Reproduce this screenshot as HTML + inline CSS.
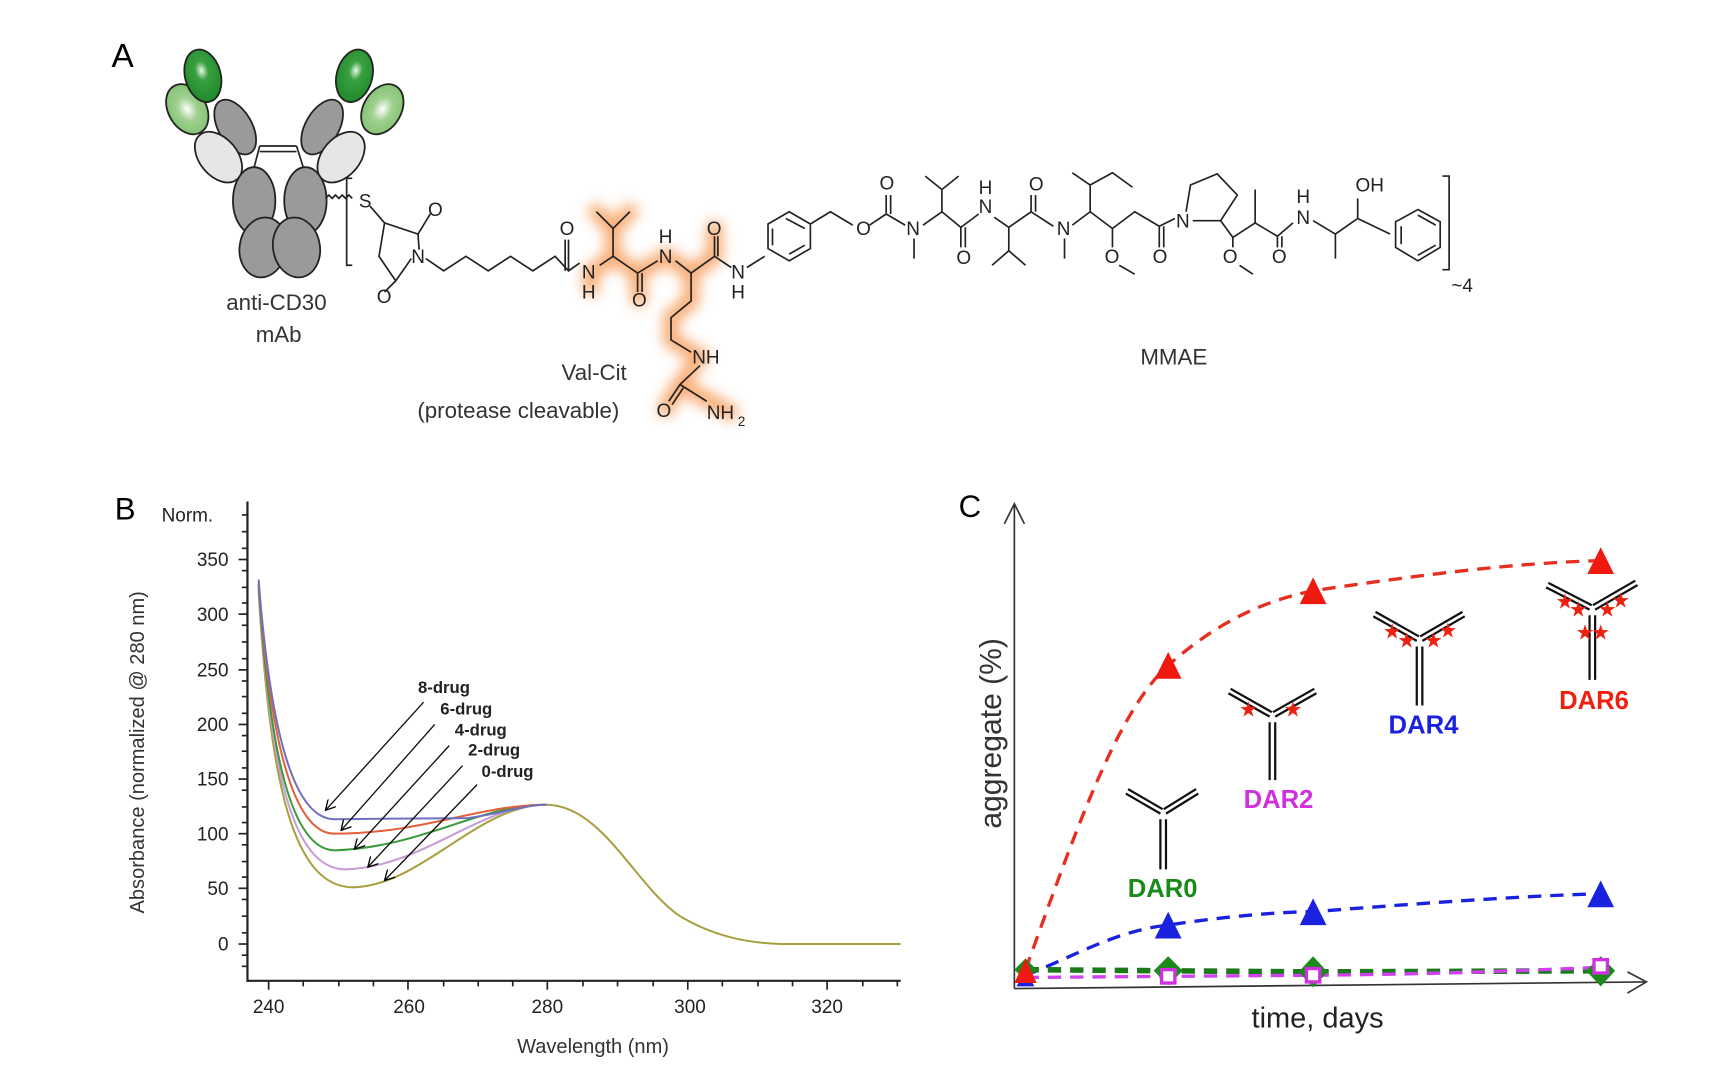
<!DOCTYPE html>
<html><head><meta charset="utf-8"><style>
html,body{margin:0;padding:0;background:#fff;}
svg{display:block;}
text{font-family:"Liberation Sans",sans-serif;}
</style></head><body>
<svg width="1730" height="1080" viewBox="0 0 1552 969" preserveAspectRatio="none" xmlns="http://www.w3.org/2000/svg">
<defs>
<filter id="glow" x="-20%" y="-20%" width="140%" height="140%"><feGaussianBlur stdDeviation="6"/></filter>
<radialGradient id="dg" cx="0.5" cy="0.4" r="0.6"><stop offset="0" stop-color="#e8f8e8"/><stop offset="0.3" stop-color="#3aa040"/><stop offset="1" stop-color="#1e8a2a"/></radialGradient>
<radialGradient id="lg" cx="0.5" cy="0.5" r="0.6"><stop offset="0" stop-color="#ffffff"/><stop offset="0.4" stop-color="#9fd08f"/><stop offset="1" stop-color="#7cbf6c"/></radialGradient>
<marker id="ah" markerWidth="10" markerHeight="10" refX="9" refY="5" orient="auto" markerUnits="userSpaceOnUse"><path d="M0,0 L9,5 L0,10" fill="none" stroke="#000" stroke-width="1.2"/></marker>
</defs>

<!-- ===== Panel A ===== -->
<text x="100" y="60" font-size="30">A</text>
<g stroke="#222" stroke-width="1.6">
<ellipse cx="168" cy="98" rx="17" ry="24" transform="rotate(-30 168 98)" fill="url(#lg)"/>
<ellipse cx="182" cy="68" rx="16" ry="24" transform="rotate(-15 182 68)" fill="url(#dg)"/>
<ellipse cx="211" cy="114" rx="15" ry="27" transform="rotate(-30 211 114)" fill="#9a9a9a"/>
<ellipse cx="196" cy="141" rx="17" ry="26" transform="rotate(-40 196 141)" fill="#e6e6e6"/>
<ellipse cx="343" cy="98" rx="17" ry="24" transform="rotate(30 343 98)" fill="url(#lg)"/>
<ellipse cx="318" cy="68" rx="16" ry="24" transform="rotate(15 318 68)" fill="url(#dg)"/>
<ellipse cx="289" cy="114" rx="15" ry="27" transform="rotate(30 289 114)" fill="#9a9a9a"/>
<ellipse cx="306" cy="141" rx="17" ry="26" transform="rotate(40 306 141)" fill="#e6e6e6"/>
<ellipse cx="228" cy="180" rx="19" ry="30" fill="#9a9a9a"/>
<ellipse cx="274" cy="180" rx="19" ry="30" fill="#9a9a9a"/>
<ellipse cx="236" cy="222" rx="21" ry="27" transform="rotate(10 236 222)" fill="#9a9a9a"/>
<ellipse cx="266" cy="222" rx="21" ry="27" transform="rotate(-10 266 222)" fill="#9a9a9a"/>
</g>
<g stroke="#222" stroke-width="1.5" fill="none">
<line x1="233" y1="131" x2="266" y2="131"/><line x1="233" y1="136" x2="266" y2="136"/>
<line x1="233" y1="131" x2="228" y2="150"/><line x1="266" y1="131" x2="272" y2="150"/>
<path d="M292,178 l3,-3 l3,3 l3,-3 l3,3 l3,-3 l3,3 l3,-3 l3,3"/>
</g>
<text x="248" y="278" font-size="20" text-anchor="middle" fill="#333">anti-CD30</text>
<text x="250" y="307" font-size="20" text-anchor="middle" fill="#333">mAb</text>

<g stroke="#f7a060" stroke-width="14" fill="none" filter="url(#glow)" stroke-linecap="round" opacity="0.9">
<path d="M530,258 L530,245 L550,230 L550,205 M535,190 L550,205 L565,190 M550,230 L572,245 L573,268 M572,245 L598,230 L620,245 L641,230 L641,205 M620,245 L620,270 L602,285 L602,305 L628,320 L610,345 L597,367 M610,345 L655,370"/>
</g>
<g font-size="17" fill="#222">
<text x="322" y="186">S</text>
<text x="384" y="194">O</text>
<text x="369" y="236">N</text>
<text x="338" y="272">O</text>
<text x="502" y="211">O</text>
<text x="522" y="250">N</text><text x="522" y="268">H</text>
<text x="567" y="275">O</text>
<text x="591" y="236">N</text><text x="591" y="218">H</text>
<text x="634" y="211">O</text>
<text x="656" y="250">N</text><text x="656" y="268">H</text>
<text x="621" y="326">NH</text>
<text x="589" y="374">O</text>
<text x="634" y="376">NH</text><text x="662" y="382" font-size="12">2</text>
<text x="768" y="211">O</text>
<text x="789" y="170">O</text>
<text x="813" y="211">N</text>
<text x="858" y="237">O</text>
<text x="878" y="191">N</text><text x="878" y="174">H</text>
<text x="923" y="171">O</text>
<text x="948" y="211">N</text>
<text x="991" y="236">O</text>
<text x="1034" y="236">O</text>
<text x="1055" y="204">N</text>
<text x="1097" y="236">O</text>
<text x="1141" y="236">O</text>
<text x="1163" y="201">N</text><text x="1163" y="182">H</text>
<text x="1216" y="172">OH</text>
<text x="1302" y="262">~4</text>
</g>
<g stroke="#222" stroke-width="1.5" fill="none">
<path d="M316,160 L311,160 L311,238 L316,238"/>
<path d="M332,185 L345,200 L375,210 L376,224 M369,232 L355,252 L340,230 L345,200 M375,210 L386,192 M355,252 L345,262"/>
<path d="M382,232 L398,243 L418,230 L438,243 L458,230 L478,243 L498,230 L510,243 L520,236 M510,243 L510,215 M507,243 L507,215"/>
<path d="M538,238 L550,230 L550,205 M535,190 L550,205 L565,190 M550,230 L572,245 L572,262 M576,245 L576,262 M572,245 L590,234 M606,234 L620,245 L641,230 L641,212 M644,230 L644,212 M641,230 L656,240 M620,245 L620,270 L602,285 L602,305 L620,316 M628,328 L610,345 L600,360 M613,348 L603,363 M610,345 L634,360"/>
<path d="M670,240 L686,230 M708,190 L727,201 L727,223 L708,234 L689,223 L689,201 Z M705,196 L722,205 M722,220 L708,228 M693,205 L693,220 M727,201 L745,190 L765,202 M780,202 L795,192 L795,175 M799,192 L799,175 M795,192 L812,202 M820,214 L820,232 M828,202 L845,190 L845,170 L830,158 M845,170 L860,158 M845,190 L862,204 L862,222 M866,204 L866,222 M862,204 L878,192 M892,195 L905,204 L925,190 L925,175 M929,190 L929,175 M905,204 L905,225 L890,238 M905,225 L920,238 M925,190 L945,203 M955,214 L955,232 M962,202 L978,190 L978,166 L962,155 M978,166 L998,155 L1016,168 M978,190 L998,205 L998,222 M1004,238 L1018,246 M998,205 L1018,190 L1040,203 L1040,222 M1044,203 L1044,222 M1040,203 L1054,196 M1064,190 L1068,166 L1092,156 L1110,175 L1095,198 L1070,198 M1095,198 L1106,213 L1106,222 M1112,238 L1124,246 M1106,213 L1126,200 L1126,170 M1126,200 L1146,212 L1146,222 M1150,212 L1150,222 M1146,212 L1160,200 M1178,198 L1198,210 L1198,232 M1198,210 L1218,196 L1218,178 M1218,196 L1247,210 M1272,188 L1292,199 L1292,222 L1272,234 L1252,222 L1252,199 Z M1257,203 L1257,219 M1272,229 L1288,220 M1272,193 L1288,202"/>
<path d="M1294,158 L1300,158 L1300,242 L1294,242"/>
</g>
<text x="533" y="341" font-size="20" text-anchor="middle" fill="#333">Val-Cit</text>
<text x="465" y="375" font-size="20" text-anchor="middle" fill="#333">(protease cleavable)</text>
<text x="1053" y="327" font-size="20" text-anchor="middle" fill="#333">MMAE</text>

<!-- ===== Panel B ===== -->
<text x="103" y="466" font-size="28">B</text>
<text x="145" y="468" font-size="17" fill="#222">Norm.</text>
<g stroke="#222" stroke-width="2" fill="none">
<line x1="222" y1="450" x2="222" y2="881"/>
<line x1="222" y1="880" x2="808" y2="880"/>
</g>
<g stroke="#222" stroke-width="1.5">
<line x1="214" y1="502" x2="222" y2="502"/><line x1="214" y1="551" x2="222" y2="551"/><line x1="214" y1="601" x2="222" y2="601"/><line x1="214" y1="650" x2="222" y2="650"/><line x1="214" y1="699" x2="222" y2="699"/><line x1="214" y1="748" x2="222" y2="748"/><line x1="214" y1="797" x2="222" y2="797"/><line x1="214" y1="847" x2="222" y2="847"/>
<line x1="217" y1="462" x2="222" y2="462"/><line x1="217" y1="477" x2="222" y2="477"/><line x1="217" y1="492" x2="222" y2="492"/><line x1="217" y1="512" x2="222" y2="512"/><line x1="217" y1="527" x2="222" y2="527"/><line x1="217" y1="541" x2="222" y2="541"/><line x1="217" y1="561" x2="222" y2="561"/><line x1="217" y1="576" x2="222" y2="576"/><line x1="217" y1="591" x2="222" y2="591"/><line x1="217" y1="611" x2="222" y2="611"/><line x1="217" y1="625" x2="222" y2="625"/><line x1="217" y1="640" x2="222" y2="640"/><line x1="217" y1="660" x2="222" y2="660"/><line x1="217" y1="674" x2="222" y2="674"/><line x1="217" y1="689" x2="222" y2="689"/><line x1="217" y1="709" x2="222" y2="709"/><line x1="217" y1="724" x2="222" y2="724"/><line x1="217" y1="738" x2="222" y2="738"/><line x1="217" y1="758" x2="222" y2="758"/><line x1="217" y1="773" x2="222" y2="773"/><line x1="217" y1="787" x2="222" y2="787"/><line x1="217" y1="807" x2="222" y2="807"/><line x1="217" y1="822" x2="222" y2="822"/><line x1="217" y1="837" x2="222" y2="837"/><line x1="217" y1="857" x2="222" y2="857"/><line x1="217" y1="867" x2="222" y2="867"/>
<line x1="241" y1="880" x2="241" y2="888"/><line x1="304" y1="880" x2="304" y2="885"/><line x1="335" y1="880" x2="335" y2="885"/><line x1="272" y1="880" x2="272" y2="885"/><line x1="366" y1="880" x2="366" y2="888"/><line x1="398" y1="880" x2="398" y2="885"/><line x1="429" y1="880" x2="429" y2="885"/><line x1="460" y1="880" x2="460" y2="885"/><line x1="491" y1="880" x2="491" y2="888"/><line x1="523" y1="880" x2="523" y2="885"/><line x1="554" y1="880" x2="554" y2="885"/><line x1="586" y1="880" x2="586" y2="885"/><line x1="617" y1="880" x2="617" y2="888"/><line x1="648" y1="880" x2="648" y2="885"/><line x1="680" y1="880" x2="680" y2="885"/><line x1="711" y1="880" x2="711" y2="885"/><line x1="742" y1="880" x2="742" y2="888"/><line x1="774" y1="880" x2="774" y2="885"/><line x1="805" y1="880" x2="805" y2="885"/>
</g>
<g font-size="17" fill="#222" text-anchor="end">
<text x="205" y="508">350</text><text x="205" y="557">300</text><text x="205" y="607">250</text><text x="205" y="656">200</text><text x="205" y="705">150</text><text x="205" y="754">100</text><text x="205" y="803">50</text><text x="205" y="853">0</text>
</g>
<g font-size="17" fill="#222" text-anchor="middle">
<text x="241" y="909">240</text><text x="367" y="909">260</text><text x="491" y="909">280</text><text x="619" y="909">300</text><text x="742" y="909">320</text>
</g>
<text x="532" y="945" font-size="18" text-anchor="middle" fill="#333">Wavelength (nm)</text>
<text transform="translate(129,675) rotate(-90)" font-size="18" text-anchor="middle" fill="#333">Absorbance (normalized @ 280 nm)</text>
<g fill="none" stroke-width="1.8">
<path stroke="#a8a040" d="M232,530 C242,700 262,800 320,796 C380,792 430,722 490,722 C540,722 570,795 610,822 C640,840 670,846 700,847 L808,847"/>
<path stroke="#c89ad8" d="M232,528 C242,690 262,780 310,780 C380,778 430,722 490,722"/>
<path stroke="#3a9a3a" d="M232,526 C242,680 262,762 300,763 C380,760 430,722 490,722"/>
<path stroke="#e2603a" d="M232,524 C242,660 262,748 300,748 C380,748 430,722 490,722"/>
<path stroke="#7070c0" d="M232,520 C242,650 262,735 300,735 L420,734 C460,728 470,722 490,722"/>
</g>
<g font-size="15" font-weight="bold" fill="#222">
<text x="375" y="622">8-drug</text><text x="395" y="641">6-drug</text><text x="408" y="660">4-drug</text><text x="420" y="678">2-drug</text><text x="432" y="697">0-drug</text>
</g>
<g stroke="#111" stroke-width="1.2" marker-end="url(#ah)">
<line x1="380" y1="630" x2="292" y2="727"/>
<line x1="390" y1="650" x2="306" y2="745"/>
<line x1="403" y1="669" x2="318" y2="762"/>
<line x1="415" y1="687" x2="330" y2="778"/>
<line x1="428" y1="704" x2="345" y2="790"/>
</g>

<!-- ===== Panel C ===== -->
<text x="860" y="464" font-size="28">C</text>
<g stroke="#333" stroke-width="1.5" fill="none">
<line x1="910" y1="452" x2="910" y2="887"/>
<path d="M901,470 L910,452 L919,470"/>
<line x1="910" y1="887" x2="1475" y2="881"/>
<path d="M1460,872 L1477,881 L1460,891"/>
</g>
<text transform="translate(898,658) rotate(-90)" font-size="27" text-anchor="middle" fill="#333">aggregate (%)</text>
<text x="1182" y="922" font-size="26" text-anchor="middle" fill="#222">time, days</text>
<g fill="none" stroke-dasharray="12,8" stroke-width="3">
<path stroke="#e53020" d="M920,870 C960,760 1000,640 1048,597 C1090,560 1130,540 1178,530 C1280,515 1360,505 1436,503"/>
<path stroke="#1a22e0" d="M920,875 C960,860 1000,835 1048,830 C1100,822 1150,818 1178,818 C1280,810 1380,803 1436,802"/>
<path stroke="#1a7a1a" stroke-width="5" d="M920,870 L1048,871 L1178,872 L1436,871"/>
<path stroke="#d040f0" d="M920,877 L1048,876 L1178,875 C1300,874 1380,870 1436,868"/>
</g>
<g fill="#1a8a1a">
<path d="M920,860 L930,870 L920,880 L910,870Z"/><path d="M1048,858 L1061,871 L1048,884 L1035,871Z"/><path d="M1178,858 L1191,872 L1178,886 L1165,872Z"/><path d="M1436,858 L1449,871 L1436,885 L1423,871Z"/>
</g>
<g fill="#fff" stroke="#d030e0" stroke-width="3">
<rect x="1042" y="870" width="12" height="12"/><rect x="1172" y="869" width="12" height="12"/><rect x="1430" y="861" width="12" height="12"/>
</g>
<g fill="#1a22e0">
<path d="M912,885 L928,885 L920,870Z"/><path d="M1036,842 L1060,842 L1048,818Z"/><path d="M1166,830 L1190,830 L1178,806Z"/><path d="M1424,814 L1448,814 L1436,790Z"/>
</g>
<g fill="#ee1a10">
<path d="M910,882 L930,882 L920,860Z"/><path d="M1036,609 L1060,609 L1048,585Z"/><path d="M1166,542 L1190,542 L1178,518Z"/><path d="M1424,515 L1448,515 L1436,491Z"/>
</g>
<g stroke="#111" stroke-width="2" fill="none">
<path d="M1041,735 L1041,780 M1046,735 L1046,780 M1041,730 L1010,712 M1043,726 L1012,708 M1046,730 L1075,712 M1044,726 L1073,708"/>
<path d="M1139,648 L1139,700 M1144,648 L1144,700 M1139,643 L1102,622 M1141,639 L1104,618 M1144,643 L1181,622 M1142,639 L1179,618"/>
<path d="M1271,580 L1271,633 M1276,580 L1276,633 M1271,575 L1232,553 M1273,571 L1234,549 M1276,575 L1314,553 M1274,571 L1312,549"/>
<path d="M1426,552 L1426,610 M1431,552 L1431,610 M1426,547 L1387,527 M1428,543 L1389,523 M1431,547 L1469,525 M1429,543 L1467,521"/>
</g>
<g fill="#ee2010" font-size="19" text-anchor="middle">
<text x="1120" y="643">★</text><text x="1160" y="643">★</text>
<text x="1249" y="573">★</text><text x="1262" y="581">★</text><text x="1286" y="581">★</text><text x="1299" y="572">★</text>
<text x="1404" y="546">★</text><text x="1416" y="553">★</text><text x="1442" y="553">★</text><text x="1454" y="545">★</text><text x="1422" y="574">★</text><text x="1436" y="574">★</text>
</g>
<g font-size="23" font-weight="bold" text-anchor="middle">
<text x="1043" y="805" fill="#1a8a1a">DAR0</text>
<text x="1147" y="725" fill="#d030e0">DAR2</text>
<text x="1277" y="658" fill="#1a22e0">DAR4</text>
<text x="1430" y="636" fill="#ee2010">DAR6</text>
</g>
</svg>
</body></html>
